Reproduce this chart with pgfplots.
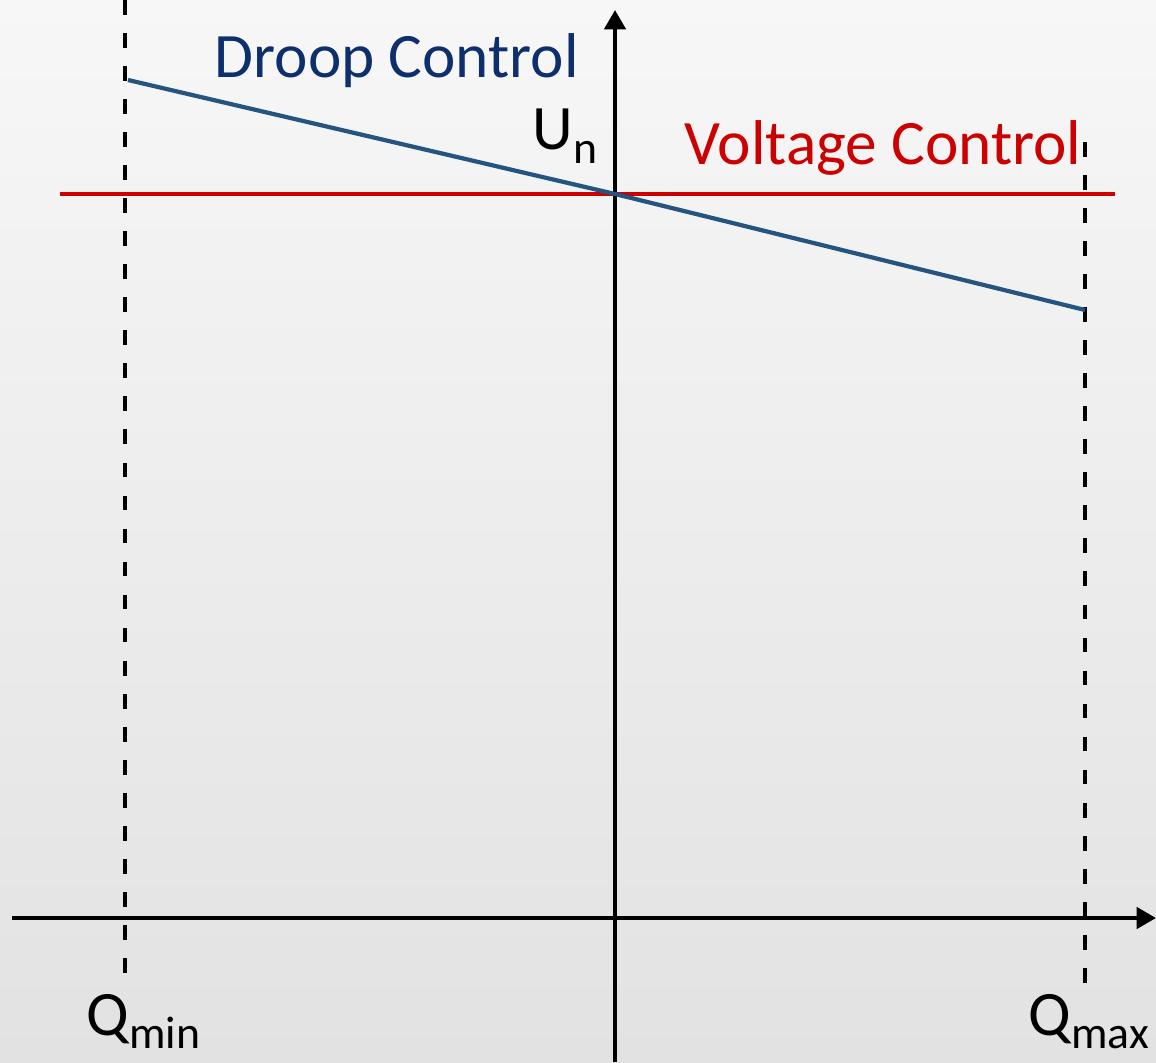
\documentclass[border=0pt]{standalone}
\usepackage{pgfplots}
\pgfplotsset{compat=1.18}
\usepackage{fontspec}
\setmainfont{Carlito}
\usetikzlibrary{arrows.meta}
\definecolor{bgtop}{HTML}{F7F7F7}
\definecolor{bgbot}{HTML}{E2E2E2}
\definecolor{droopline}{HTML}{24547F}
\definecolor{drooptext}{HTML}{0E2F6E}
\definecolor{vcred}{HTML}{CC0000}
\newcommand{\bigf}{\fontsize{18}{21}\selectfont}
\newcommand{\sub}[1]{\raisebox{-0.22em}{\fontsize{13}{15}\selectfont #1}}
\begin{document}
\begin{tikzpicture}
\shade[top color=bgtop, bottom color=bgbot] (0,0) rectangle (11.56,10.62);
\begin{axis}[
  at={(0,0)}, anchor=south west,
  scale only axis, width=11.56cm, height=10.62cm,
  xmin=0, xmax=1156, ymin=0, ymax=1062,
  hide axis, clip=false,
]
% dashed limits
\addplot[black, line width=1.3pt, dash pattern=on 4.2pt off 5.2pt] coordinates {(125,1062) (125,78)};
\addplot[black, line width=1.3pt, dash pattern=on 4.2pt off 5.2pt] coordinates {(1085,920) (1085,78)};
% axes
\addplot[black, line width=1.2pt, -{Triangle[length=5.5pt,width=6pt]}] coordinates {(12,144) (1156,144)};
\addplot[black, line width=1.2pt, -{Triangle[length=5.5pt,width=6pt]}] coordinates {(615,0) (615,1052)};
% voltage control
\addplot[vcred, line width=1.2pt] coordinates {(60,868) (1115,868)};
% droop control
\addplot[droopline, line width=1.2pt] coordinates {(128,982) (615,868) (1085,752)};
% labels
\node[anchor=base west, text=drooptext, inner sep=0pt] at (axis cs:214,984) {\bigf Droop Control};
\node[anchor=base west, text=vcred, inner sep=0pt] at (axis cs:684,897) {\bigf Voltage Control};
\node[anchor=base west, inner sep=0pt] at (axis cs:532,912) {\bigf U\sub{n}};
\node[anchor=base west, inner sep=0pt] at (axis cs:86,27) {\bigf Q\sub{min}};
\node[anchor=base west, inner sep=0pt] at (axis cs:1028,27) {\bigf Q\sub{max}};
\end{axis}
\pgfresetboundingbox
\path (0,0) rectangle (11.56,10.62);
\end{tikzpicture}
\end{document}
